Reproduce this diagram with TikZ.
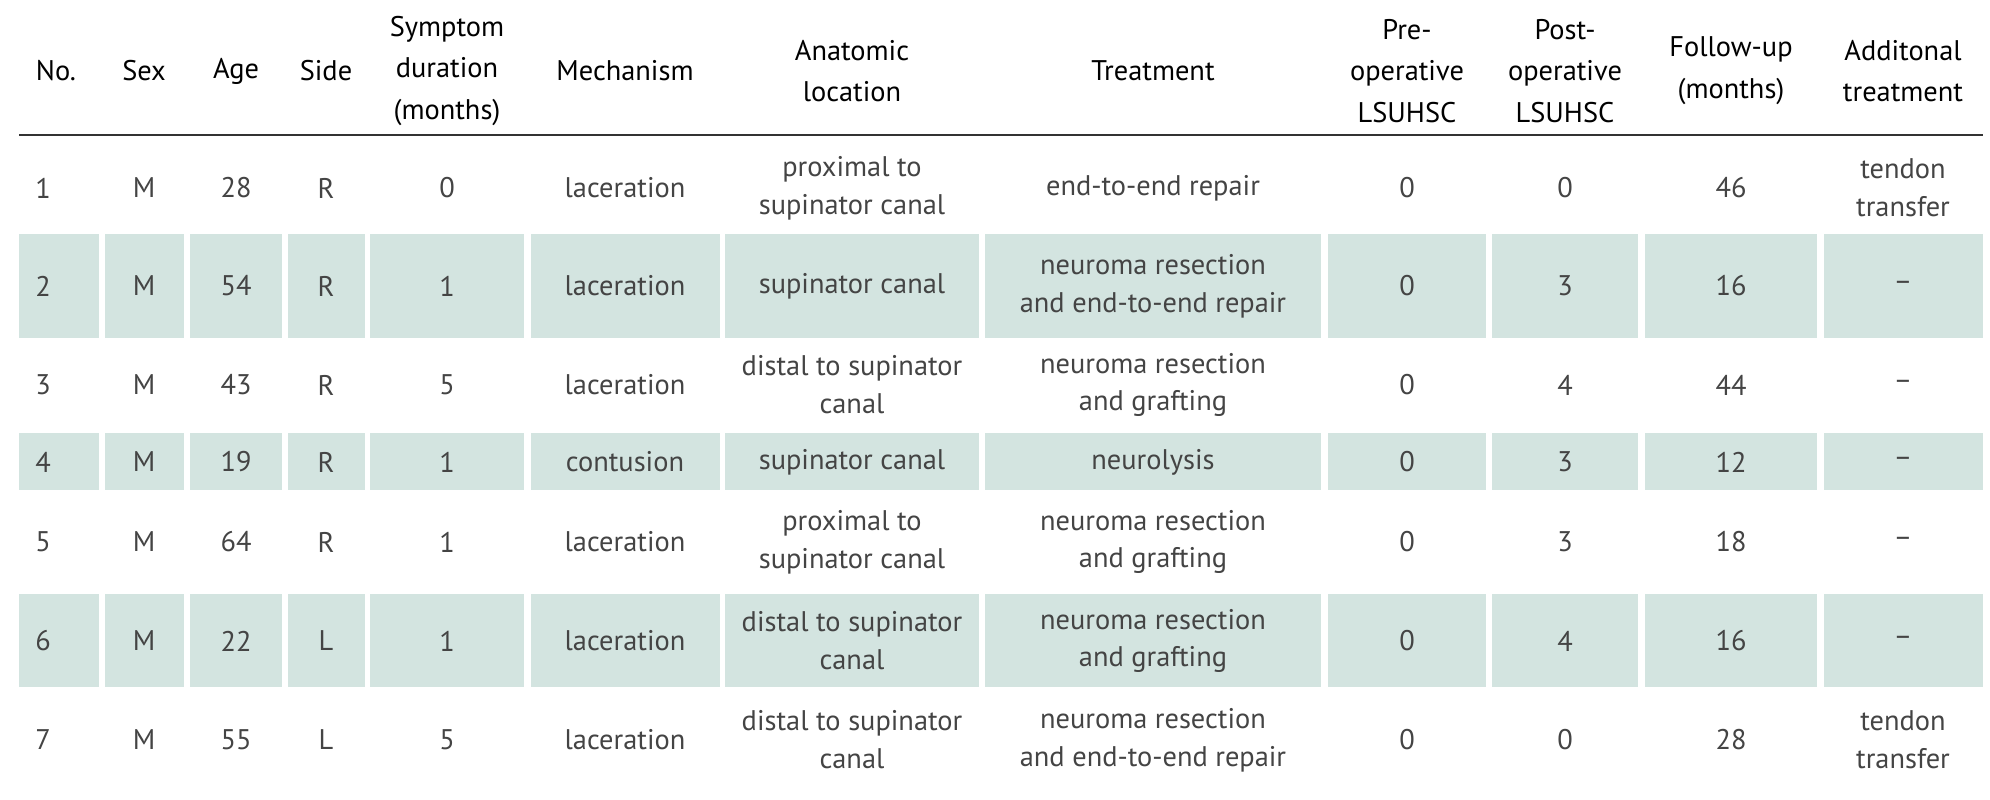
\documentclass[tikz,border=0pt]{standalone}
\usepackage{fontspec}
\setmainfont{PT Sans}
\definecolor{rowfill}{HTML}{D3E4E0}
\definecolor{body}{HTML}{444444}
\begin{document}
\begin{tikzpicture}[x=1bp,y=-1bp,
  hd/.style={align=center,inner sep=0,font=\fontsize{28.5}{42}\selectfont,text=black},
  cell/.style={align=center,inner sep=0,font=\fontsize{28.5}{38}\selectfont,text=body},
  bg/.style={fill=rowfill,draw=none}]
\useasboundingbox (0,0) rectangle (1990,800);
\def\xs{{19,105,190,288,370,531,725,985,1328,1492,1645,1824}}
\def\xe{{99,184,282,365,524,720,979,1321,1486,1638,1817,1983}}
\foreach \t/\b in {234/338,433/490,594/687}{
  \foreach \i in {0,...,11}{
    \pgfmathsetmacro\a{\xs[\i]}\pgfmathsetmacro\c{\xe[\i]}
    \path[bg] (\a,\t) rectangle (\c,\b);}}
\node[hd] (h1) at (56,71) {No.};
\node[hd] (h2) at (144,71) {Sex};
\node[hd] (h3) at (236,71) {Age};
\node[hd] (h4) at (326,71) {Side};
\node[hd] (h5) at (447,71) {Symptom\\duration\\(months)};
\node[hd] (h6) at (625,71) {Mechanism};
\node[hd] (h7) at (852,71) {Anatomic\\location};
\node[hd] (h8) at (1153,71) {Treatment};
\node[hd] (h9) at (1407,71) {Pre-\\operative\\LSUHSC};
\node[hd] (h10) at (1565,71) {Post-\\operative\\LSUHSC};
\node[hd] (h11) at (1731,71) {Follow-up\\(months)};
\node[hd] (h12) at (1903,71) {Additonal\\treatment};
\coordinate (rl) at (19,135); \coordinate (rr) at (1983,135);
\draw[line width=2bp,black!80] (rl) -- (rr);
\def\xc{{43,144,236,326,447,625,852,1153,1407,1565,1731,1903}}
\foreach \y/\row [count=\r] in {
 188/{1,M,28,R,0,laceration,proximal to\\supinator canal,end-to-end repair,0,0,46,tendon\\transfer},
 286/{2,M,54,R,1,laceration,supinator canal,neuroma resection\\and end-to-end repair,0,3,16,–},
 385/{3,M,43,R,5,laceration,distal to supinator\\canal,neuroma resection\\and grafting,0,4,44,–},
 462/{4,M,19,R,1,contusion,supinator canal,neurolysis,0,3,12,–},
 542/{5,M,64,R,1,laceration,proximal to\\supinator canal,neuroma resection\\and grafting,0,3,18,–},
 641/{6,M,22,L,1,laceration,distal to supinator\\canal,neuroma resection\\and grafting,0,4,16,–},
 740/{7,M,55,L,5,laceration,distal to supinator\\canal,neuroma resection\\and end-to-end repair,0,0,28,tendon\\transfer}}{
  \foreach \v [count=\k from 0] in \row {
    \pgfmathsetmacro\x{\xc[\k]}
    \node[cell] (c\r-\k) at (\x,\y) {\v};}}
\end{tikzpicture}
\end{document}
